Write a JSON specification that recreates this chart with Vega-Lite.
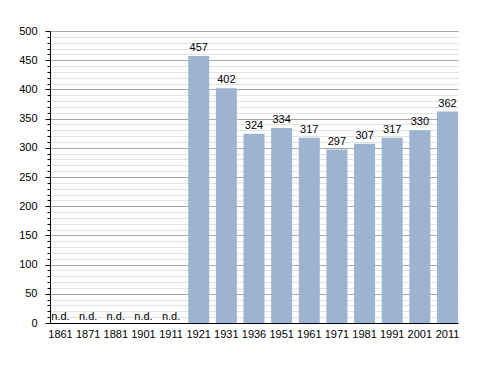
{
  "$schema": "https://vega.github.io/schema/vega-lite/v6.json",
  "width": 408,
  "height": 292,
  "autosize": {"type": "none"},
  "padding": {"left": 50, "top": 31, "right": 30, "bottom": 50},
  "background": "white",
  "config": {
    "view": {"stroke": null},
    "font": "Liberation Sans",
    "axis": {"labelFont": "Liberation Sans", "labelFontSize": 11, "labelColor": "#000"}
  },
  "data": {
    "values": [
      {"year": "1861", "pop": null, "label": "n.d."},
      {"year": "1871", "pop": null, "label": "n.d."},
      {"year": "1881", "pop": null, "label": "n.d."},
      {"year": "1901", "pop": null, "label": "n.d."},
      {"year": "1911", "pop": null, "label": "n.d."},
      {"year": "1921", "pop": 457, "label": "457"},
      {"year": "1931", "pop": 402, "label": "402"},
      {"year": "1936", "pop": 324, "label": "324"},
      {"year": "1951", "pop": 334, "label": "334"},
      {"year": "1961", "pop": 317, "label": "317"},
      {"year": "1971", "pop": 297, "label": "297"},
      {"year": "1981", "pop": 307, "label": "307"},
      {"year": "1991", "pop": 317, "label": "317"},
      {"year": "2001", "pop": 330, "label": "330"},
      {"year": "2011", "pop": 362, "label": "362"}
    ]
  },
  "encoding": {
    "x": {
      "field": "year", "type": "nominal",
      "sort": ["1861","1871","1881","1901","1911","1921","1931","1936","1951","1961","1971","1981","1991","2001","2011"],
      "scale": {"paddingInner": 0.24, "paddingOuter": 0},
      "axis": {"title": null, "labelAngle": 0, "ticks": false, "domainColor": "#000", "labelPadding": 5}
    },
    "y": {
      "field": "pop", "type": "quantitative",
      "scale": {"domain": [0, 500], "nice": false},
      "axis": {
        "title": null,
        "values": [0,10,20,30,40,50,60,70,80,90,100,110,120,130,140,150,160,170,180,190,200,210,220,230,240,250,260,270,280,290,300,310,320,330,340,350,360,370,380,390,400,410,420,430,440,450,460,470,480,490,500],
        "labelExpr": "datum.value % 50 === 0 ? datum.label : ''",
        "labelOverlap": false,
        "grid": true,
        "gridColor": {"condition": {"test": "datum.value % 50 === 0", "value": "#a8a8a8"}, "value": "#e2e2e2"},
        "tickSize": {"condition": {"test": "datum.value % 50 === 0", "value": 5}, "value": 3},
        "tickColor": "#000",
        "domainColor": "#000",
        "labelPadding": 8
      }
    }
  },
  "layer": [
    {
      "mark": {"type": "bar", "color": "#9cb4cf"}
    },
    {
      "transform": [{"filter": "datum.pop != null"}],
      "mark": {"type": "text", "baseline": "bottom", "dy": -3, "fontSize": 11, "color": "#000"},
      "encoding": {
        "text": {"field": "label"}
      }
    },
    {
      "transform": [{"filter": "datum.pop == null"}],
      "mark": {"type": "text", "baseline": "bottom", "dy": -1, "fontSize": 11, "color": "#000", "invalid": "show"},
      "encoding": {
        "text": {"field": "label"}
      }
    }
  ]
}
